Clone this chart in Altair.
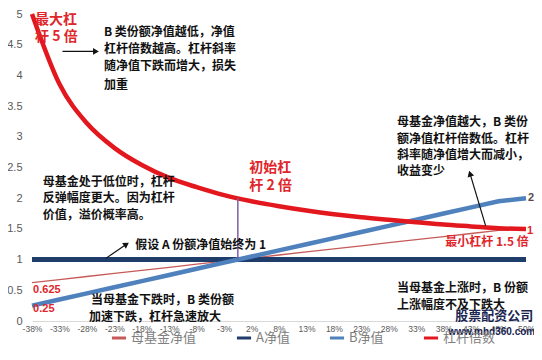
import altair as alt
import pandas as pd

# ---------------- data ----------------
x_labels = ["-38%", "-33%", "-28%", "-23%", "-18%", "-13%", "-8%", "-3%", "2%", "8%",
            "13%", "18%", "23%", "28%", "33%", "38%", "43%", "48%", "50%"]
mother_nav = [0.625, 0.675, 0.725, 0.775, 0.825, 0.875, 0.925, 0.975, 1.025, 1.075,
              1.125, 1.175, 1.225, 1.275, 1.325, 1.375, 1.425, 1.475, 1.5]
a_nav = [1, 1, 1, 1, 1, 1, 1, 1, 1, 1, 1, 1, 1, 1, 1, 1, 1, 1, 1]
b_nav = [0.25, 0.35, 0.45, 0.55, 0.65, 0.75, 0.85, 0.95, 1.05, 1.15,
         1.25, 1.35, 1.45, 1.55, 1.65, 1.75, 1.85, 1.95, 2.0]
leverage = [5.0, 3.86, 3.22, 2.82, 2.54, 2.33, 2.18, 2.05, 1.95, 1.87,
            1.80, 1.74, 1.69, 1.65, 1.61, 1.57, 1.54, 1.51, 1.5]
series_names = ["母基金净值", "A净值", "B净值", "杠杆倍数"]
series_colors = ["#c65a58", "#1f3d6b", "#4f81bd", "#e3171e"]
series_widths = [1.3, 5, 4.5, 4.5]

initial_lev_pos = 7.5          # between -3% and 2%  (mother fund = 1)
initial_lev_range = [1, 2]

rows = []
for name, vals in zip(series_names, [mother_nav, a_nav, b_nav, leverage]):
    for i, v in enumerate(vals):
        rows.append({"idx": i, "value": v, "series": name})
df = pd.DataFrame(rows)

FONT_CJK = "Noto Sans CJK SC"
BLACK = "#111111"
RED = "#e0262b"

# annotation texts (x in category index units, y in value units)
ann_text = ["最大杠", "杆 5 倍",
            "B 类份额净值越低，净值", "杠杆倍数越高。杠杆斜率", "随净值下跌而增大，损失", "加重",
            "母基金处于低位时，杠杆", "反弹幅度更大。因为杠杆", "价值，溢价概率高。",
            "假设 A 份额净值始终为 1",
            "当母基金下跌时，B 类份额", "加速下跌，杠杆急速放大",
            "0.625", "0.25",
            "初始杠", "杆 2 倍",
            "母基金净值越大，B 类份", "额净值杠杆倍数低。杠杆", "斜率随净值增大而减小，", "收益变少",
            "最小杠杆 1.5 倍",
            "当母基金上涨时，B 份额", "上涨幅度不及下跌大",
            "2", "1.5",
            "股票配资公司", "www.mhd360.com"]
ann_x = [0.11, 0.11,
         2.62, 2.62, 2.62, 2.62,
         0.39, 0.39, 0.39,
         3.76,
         2.15, 2.08,
         0.04, 0.04,
         7.92, 7.92,
         13.30, 13.30, 13.30, 13.30,
         15.06,
         13.30, 13.30,
         18.07, 18.04,
         15.42, 15.17]
ann_y = [4.9, 4.62,
         4.71, 4.43, 4.15, 3.85,
         2.27, 2.00, 1.73,
         1.23,
         0.34, 0.06,
         0.51, 0.19,
         2.49, 2.20,
         3.24, 2.97, 2.70, 2.44,
         1.28,
         0.54, 0.26,
         2.0, 1.47,
         0.08, -0.18]
ann_kind = ["red", "red",
            "black", "black", "black", "black",
            "black", "black", "black",
            "black",
            "black", "black",
            "redsmall", "redsmall",
            "red", "red",
            "black", "black", "black", "black",
            "redmid",
            "black", "black",
            "end", "redsmall",
            "wm", "wm2"]
ann = pd.DataFrame({"text": ann_text, "idx": ann_x, "value": ann_y, "kind": ann_kind})

# arrows: start -> end
arrow_x = [1.11, 2.69, 16.53]
arrow_y = [4.39, 1.02, 1.55]
arrow_x2 = [2.33, 3.44, 15.96]
arrow_y2 = [4.39, 1.25, 2.40]
arrow_angle = [90, 56, 343]
arrows = pd.DataFrame({"idx": arrow_x, "value": arrow_y, "idx2": arrow_x2, "value2": arrow_y2,
                       "angle": arrow_angle})

# ---------------- encodings ----------------
label_expr = "[" + ",".join("'%s'" % l for l in x_labels) + "][datum.value]"
x_axis = alt.Axis(values=list(range(19)), labelExpr=label_expr, grid=False, ticks=False,
                  domainColor="#d9d9d9", labelFontSize=8.5, labelColor="#595959",
                  labelFont="Liberation Sans", labelPadding=3, labelOverlap=False,
                  labelFlush=False, title=None)
x_scale = alt.Scale(domain=[0, 18], nice=False, zero=False)
y_axis = alt.Axis(values=[0, 0.5, 1, 1.5, 2, 2.5, 3, 3.5, 4, 4.5, 5], format=".1~f",
                  grid=False, ticks=False, domain=False, labelFontSize=11,
                  labelColor="#595959", labelFont="Liberation Sans",
                  labelPadding=10, labelOverlap=False, title=None)
y_scale = alt.Scale(domain=[0, 5], nice=False)
x_enc = alt.X("idx:Q", scale=x_scale, axis=x_axis)
y_enc = alt.Y("value:Q", scale=y_scale, axis=y_axis)

legend = alt.Legend(orient="none", legendX=78, legendY=315, direction="horizontal", title=None,
                    symbolType="stroke", symbolStrokeWidth=3, symbolSize=200,
                    labelFont=FONT_CJK, labelFontSize=13, labelColor="#808080",
                    columnPadding=33, labelOffset=3)
color_enc = alt.Color("series:N", scale=alt.Scale(domain=series_names, range=series_colors),
                      legend=legend)

layers = []
for name, w in zip(series_names, series_widths):
    interp = "monotone" if name == "杠杆倍数" else "linear"
    layers.append(
        alt.Chart(df).transform_filter(alt.datum.series == name)
        .mark_line(strokeWidth=w, interpolate=interp)
        .encode(x=x_enc, y=y_enc, color=color_enc)
    )

vline = alt.Chart(pd.DataFrame({"idx": [initial_lev_pos], "value": [initial_lev_range[0]],
                                "value2": [initial_lev_range[1]]})).mark_rule(
    color="#7f5fa8", strokeWidth=1.5).encode(x=x_enc, y=y_enc, y2="value2:Q")

arrow_lines = alt.Chart(arrows).mark_rule(color="#111111", strokeWidth=1.2).encode(
    x=x_enc, y=y_enc, x2="idx2:Q", y2="value2:Q")
arrow_heads = alt.Chart(arrows).mark_point(shape="triangle-up", filled=True, size=45,
                                           color="#111111", opacity=1).encode(
    x=alt.X("idx2:Q", scale=x_scale, axis=x_axis),
    y=alt.Y("value2:Q", scale=y_scale, axis=y_axis),
    angle=alt.Angle("angle:Q", scale=None))


def text_layer(kind, **kw):
    return alt.Chart(ann).transform_filter(alt.datum.kind == kind).mark_text(
        align="left", baseline="middle", **kw).encode(x=x_enc, y=y_enc, text="text:N")


texts = [
    text_layer("black", font=FONT_CJK, fontSize=12, fontWeight="bold", color=BLACK),
    text_layer("red", font=FONT_CJK, fontSize=14, fontWeight="bold", color=RED),
    text_layer("redmid", font=FONT_CJK, fontSize=12, fontWeight="bold", color=RED),
    text_layer("redsmall", font="Liberation Sans", fontSize=11, fontWeight="bold", color=RED),
    text_layer("end", font="Liberation Sans", fontSize=11, fontWeight="bold", color="#5a4a4a"),
    text_layer("wm", font=FONT_CJK, fontSize=13, fontWeight="bold", color="#1a2550"),
    text_layer("wm2", font="Liberation Sans", fontSize=10, fontWeight="bold", color="#1a2550"),
]

chart = alt.layer(*layers, vline, arrow_lines, arrow_heads, *texts).properties(
    width=494, height=307,
    autosize=alt.AutoSizeParams(type="none"),
    padding={"left": 24, "top": 6, "right": 8, "bottom": 27},
    background="white",
).configure_view(stroke=None).configure_axis(labelOverlap=False)

chart.save("out.html", embed_options={"renderer": "svg", "actions": False})
